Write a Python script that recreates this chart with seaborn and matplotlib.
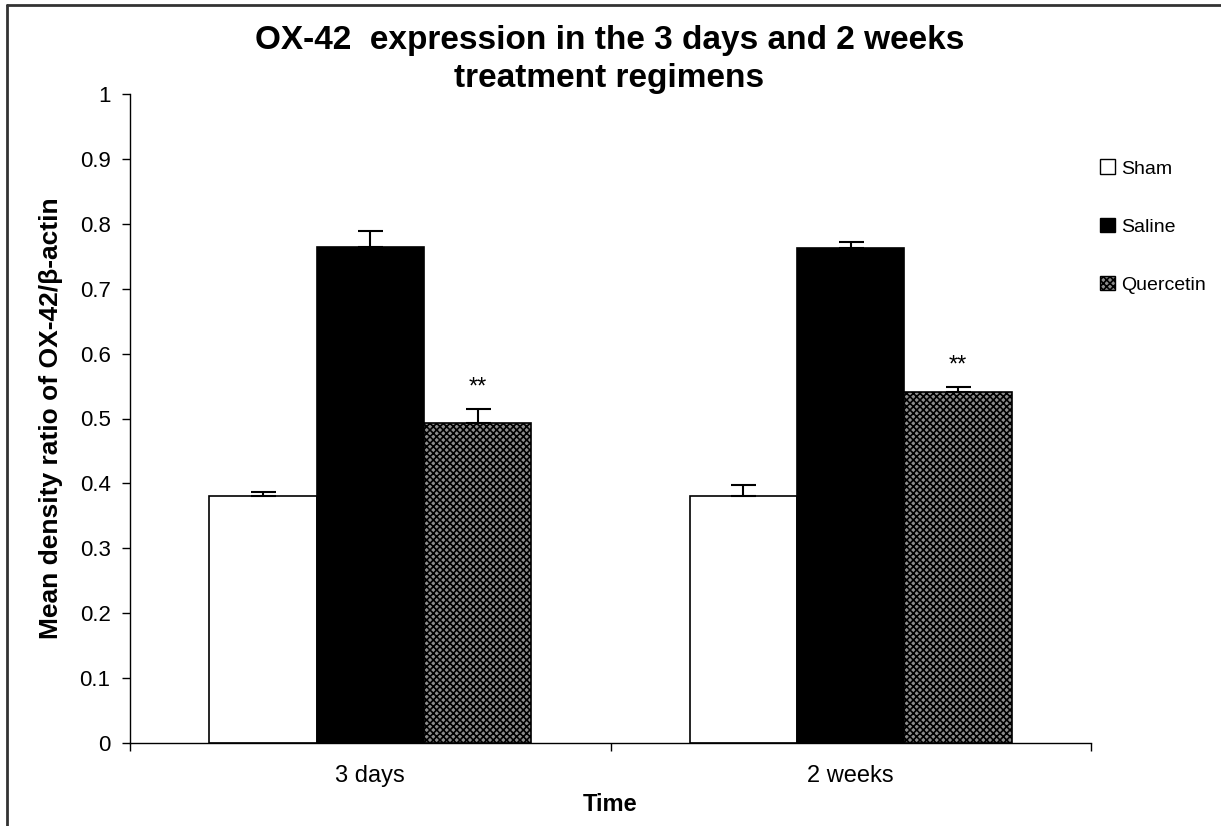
import numpy as np
import pandas as pd
import matplotlib.pyplot as plt
import seaborn as sns
from matplotlib.patches import Patch
from matplotlib.lines import Line2D

sns.set_theme(style="white")
plt.rcParams['font.family'] = ['Liberation Sans', 'DejaVu Sans']
plt.rcParams['hatch.linewidth'] = 1.2
for key in ["text.color", "axes.labelcolor", "xtick.color", "ytick.color"]:
    plt.rcParams[key] = "black"

# ── Data ───────────────────────────────────────────────────────────────────────
times = ["3 days", "2 weeks"]
groups = ["Sham", "Saline", "Quercetin"]
sham_mean = [0.381, 0.381]
saline_mean = [0.765, 0.762]
quercetin_mean = [0.493, 0.541]
sham_err = [0.006, 0.017]
saline_err = [0.024, 0.010]
quercetin_err = [0.021, 0.007]

df = pd.DataFrame({
    "time": times * 3,
    "group": [g for g in groups for _ in times],
    "mean": sham_mean + saline_mean + quercetin_mean,
    "err": sham_err + saline_err + quercetin_err,
})

face = {"Sham": "white", "Saline": "black", "Quercetin": "#8c8c8c"}
hatch = {"Sham": "", "Saline": "", "Quercetin": "xxxxx"}

fig = plt.figure(figsize=(12.21, 8.26), dpi=100)
ax = fig.add_axes([130 / 1221, 1 - 743 / 826, (1091 - 130) / 1221, (743 - 94) / 826])

sns.barplot(data=df, x="time", y="mean", hue="group", hue_order=groups,
            order=times, palette=face, width=0.67, gap=0, errorbar=None,
            edgecolor="black", linewidth=1.2, legend=False, ax=ax)

# hatching + error bars + significance stars
for cont, g in zip(ax.containers, groups):
    sub = df[df["group"] == g].set_index("time").loc[times]
    for bar, (_, row) in zip(cont, sub.iterrows()):
        bar.set_hatch(hatch[g])
        cx = bar.get_x() + bar.get_width() / 2
        top = bar.get_height()
        ax.errorbar(cx, top, yerr=[[0], [row["err"]]], fmt="none",
                    ecolor="black", elinewidth=1.5, capsize=9, capthick=1.5)
        if g == "Quercetin":
            ax.text(cx, top + row["err"] + 0.033, "**", ha="center",
                    va="center", fontsize=17)

ax.set_ylim(0, 1)
ax.set_xlim(-0.5, 1.5)
ax.set_yticks(np.arange(0, 1.01, 0.1))
ax.set_yticklabels(["0", "0.1", "0.2", "0.3", "0.4", "0.5", "0.6", "0.7",
                    "0.8", "0.9", "1"], fontsize=16)
ax.set_xticks([0, 1])
ax.set_xticklabels(times, fontsize=17)
ax.set_xticks([-0.5, 0.5, 1.5], minor=True)
ax.tick_params(axis="x", which="major", length=0, pad=16)
ax.tick_params(axis="x", which="minor", length=6, width=1, direction="out",
               bottom=True)
ax.tick_params(axis="y", length=6, width=1, direction="out", left=True, pad=8)
for side in ["top", "right"]:
    ax.spines[side].set_visible(False)
for side in ["left", "bottom"]:
    ax.spines[side].set_color("black")
    ax.spines[side].set_linewidth(1)

ax.set_xlabel("Time", fontsize=17, fontweight="bold", labelpad=4)
ax.set_ylabel("Mean density ratio of OX-42/β-actin", fontsize=19,
              fontweight="bold", labelpad=12)

fig.text(0.499, 1 - 40 / 826, "OX-42  expression in the 3 days and 2 weeks",
         ha="center", va="center", fontsize=24, fontweight="bold")
fig.text(0.499, 1 - 79 / 826, "treatment regimens",
         ha="center", va="center", fontsize=24, fontweight="bold")

handles = [Patch(facecolor=face[g], edgecolor="black", hatch=hatch[g],
                 linewidth=1) for g in groups]
fig.legend(handles, groups, loc="upper left",
           bbox_to_anchor=(1082 / 1221, 1 - 142 / 826), frameon=False,
           fontsize=14, handlelength=0.8, handleheight=0.8,
           handletextpad=0.3, labelspacing=2.05)

# outer border (left and top edges)
fig.add_artist(Line2D([7 / 1221, 7 / 1221], [0, 1 - 5 / 826],
                      transform=fig.transFigure, color="#333333", lw=2))
fig.add_artist(Line2D([7 / 1221, 1], [1 - 5 / 826, 1 - 5 / 826],
                      transform=fig.transFigure, color="#333333", lw=2))

fig.savefig("out.png", dpi=100)
